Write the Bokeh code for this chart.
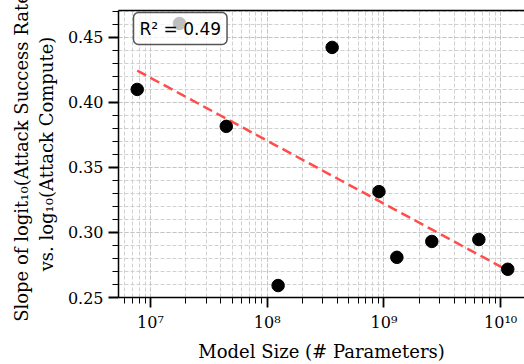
import numpy as np
from bokeh.plotting import figure
from bokeh.models import (Range1d, Label, CustomJSTickFormatter, BasicTicker,
                          LinearAxis, FixedTicker)
from bokeh.embed import file_html
from bokeh.resources import INLINE

# Data
model_size = [7.7e6, 1.77e7, 4.46e7, 1.24e8, 3.6e8, 9.06e8, 1.29e9, 2.57e9, 6.5e9, 1.15e10]
slope = [0.410, 0.4607, 0.3816, 0.2592, 0.4423, 0.3314, 0.2809, 0.2931, 0.2946, 0.2717]

# Linear fit in log10(x)
lx = np.log10(model_size)
ys = np.array(slope)
m, b = np.polyfit(lx, ys, 1)
pred = m * lx + b
r2 = 1 - np.sum((ys - pred) ** 2) / np.sum((ys - ys.mean()) ** 2)
fit_lx = np.linspace(lx.min(), lx.max(), 50)
fit_x = 10 ** fit_lx
fit_y = m * fit_lx + b

SERIF = "DejaVu Serif"

p = figure(width=524, height=364, x_axis_type="log", output_backend="svg",
           toolbar_location=None,
           x_range=Range1d(5.32e6, 1.6e10), y_range=Range1d(0.25, 0.4707),
           min_border_left=118, min_border_right=0, min_border_top=0, min_border_bottom=66)
p.background_fill_color = "white"
p.border_fill_color = "white"
p.outline_line_color = None

xa = p.below[0]
ya = p.left[0]

# top spine
top = LinearAxis(ticker=FixedTicker(ticks=[]), axis_line_color="black", axis_line_width=1.5,
                 major_tick_out=0, minor_tick_out=0, major_tick_in=0, minor_tick_in=0,
                 major_label_text_font_size="0px")
p.add_layout(top, "above")
p.min_border_top = 10

# grids
for g in (p.xgrid, p.ygrid):
    g.grid_line_color = "#c4c4c4"
    g.grid_line_dash = "4 2"
    g.grid_line_width = 1
    g.minor_grid_line_color = "#d0d0d0"
    g.minor_grid_line_dash = "4 2"
    g.minor_grid_line_width = 1

ya.ticker = BasicTicker(desired_num_ticks=5, num_minor_ticks=5)

for ax in (xa, ya):
    ax.axis_line_color = "black"
    ax.axis_line_width = 1.5
    ax.major_tick_line_color = "black"
    ax.major_tick_line_width = 1.8
    ax.minor_tick_line_color = "black"
    ax.minor_tick_line_width = 1
    ax.major_tick_in = 0
    ax.minor_tick_in = 0
    ax.major_tick_out = 10
    ax.minor_tick_out = 6
    ax.major_label_text_font = SERIF
    ax.major_label_text_font_size = "16px"
    ax.major_label_text_color = "black"
    ax.axis_label_text_font = SERIF
    ax.axis_label_text_font_size = "18px"
    ax.axis_label_text_font_style = "normal"
    ax.axis_label_text_color = "black"

xa.formatter = CustomJSTickFormatter(code="""
const sup = {'-':'\u207b','0':'\u2070','1':'\u00b9','2':'\u00b2','3':'\u00b3','4':'\u2074','5':'\u2075','6':'\u2076','7':'\u2077','8':'\u2078','9':'\u2079'};
const e = Math.round(Math.log10(tick));
return '10' + String(e).split('').map(c => sup[c]).join('');
""")
ya.formatter = CustomJSTickFormatter(code="return tick.toFixed(2);")

xa.axis_label = "Model Size (# Parameters)"
ya.axis_label = "Slope of logit\u2081\u2080(Attack Success Rate)\nvs. log\u2081\u2080(Attack Compute)"
xa.axis_label_standoff = 6
ya.axis_label_standoff = 8

p.line(fit_x, fit_y, line_color="#ff4d4d", line_width=2.5, line_dash="10 5")
p.scatter(model_size, slope, size=12.5, fill_color="black", line_color="black")

lab = Label(x=15, y=253, x_units="screen", y_units="screen",
            text="R\u00b2 = %.2f" % r2, text_font="DejaVu Sans", text_font_size="17px",
            text_color="black", text_align="left", text_baseline="bottom",
            background_fill_color="white", background_fill_alpha=0.75,
            border_line_color="#555555", border_line_width=1.5,
            padding=6, border_radius=5)
p.add_layout(lab)

open("out.html", "w").write(file_html(p, INLINE))
